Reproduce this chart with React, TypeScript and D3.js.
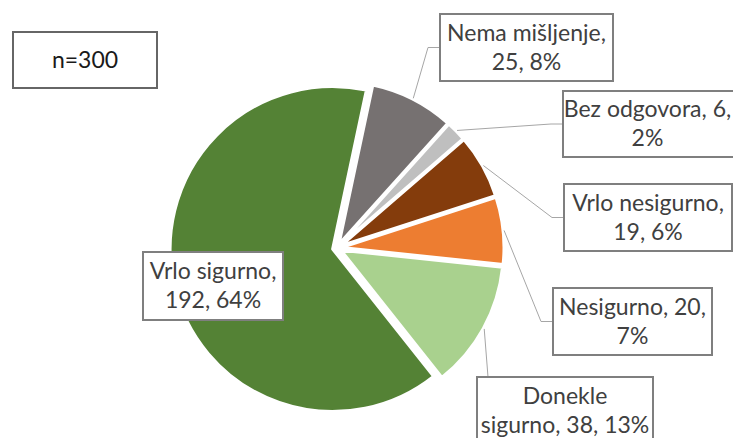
import React from "react";
import * as d3 from "d3";

const categories = ["Nema mišljenje", "Bez odgovora", "Vrlo nesigurno", "Nesigurno", "Donekle sigurno", "Vrlo sigurno"];
const values = [25, 6, 19, 20, 38, 192];
const colors = ["#767171", "#bfbfbf", "#843c0c", "#ed7d31", "#a9d18e", "#548235"];
const labelLines = [
  ["Nema mišljenje,", "25, 8%"],
  ["Bez odgovora, 6,", "2%"],
  ["Vrlo nesigurno,", "19, 6%"],
  ["Nesigurno, 20,", "7%"],
  ["Donekle", "sigurno, 38, 13%"],
  ["Vrlo sigurno,", "192, 64%"],
];
const sampleLabel = "n=300";

const W = 733;
const H = 438;
const CX = 337;
const CY = 248;
const R = 162.5;
const EXPLODE = 4.5;
const START = (12 * Math.PI) / 180;
const FONT = "Lato, 'Open Sans', sans-serif";
const FS = 23;
const LH = 29;

// label box layout: x, y, w, h, leader type, text shift
const boxes = [
  { x: 440, y: 14, w: 173, h: 67, leader: "side", tx: 0 },
  { x: 563, y: 91, w: 177, h: 66, leader: "side", tx: -4 },
  { x: 564, y: 184, w: 168, h: 67, leader: "side", tx: 0 },
  { x: 553, y: 288, w: 159, h: 67, leader: "side", tx: 0 },
  { x: 477, y: 377, w: 176, h: 67, leader: "top", tx: 0 },
  { x: 143, y: 252, w: 140, h: 68, leader: "none", tx: 0 },
];

export default function App() {
  const pie = d3
    .pie<number>()
    .sort(null)
    .startAngle(START)
    .endAngle(START + 2 * Math.PI)(values);
  const arc = d3.arc<d3.PieArcDatum<number>>().innerRadius(0).outerRadius(R);

  return (
    <svg width={W} height={H} style={{ position: "absolute", left: 0, top: 0, background: "#fff" }}>
      <rect x={0} y={0} width={W} height={H} fill="#fff" />
      {pie.map((p, i) => {
        const mid = (p.startAngle + p.endAngle) / 2;
        const dx = EXPLODE * Math.sin(mid);
        const dy = -EXPLODE * Math.cos(mid);
        return (
          <path
            key={categories[i]}
            d={arc(p) || ""}
            transform={`translate(${CX + dx},${CY + dy})`}
            fill={colors[i]}
            stroke="#fff"
            strokeWidth={3}
            strokeLinejoin="round"
          />
        );
      })}
      {pie.map((p, i) => {
        const b = boxes[i];
        if (b.leader === "none") return null;
        const mid = (p.startAngle + p.endAngle) / 2;
        const ax = CX + (EXPLODE + R + 1) * Math.sin(mid);
        const ay = CY - (EXPLODE + R + 1) * Math.cos(mid);
        let pts: [number, number][];
        if (b.leader === "side") {
          const cy = b.y + b.h / 2;
          pts = [[ax, ay], [b.x - 12, cy], [b.x, cy]];
        } else {
          pts = [[ax, ay], [b.x + 11, b.y]];
        }
        return (
          <polyline
            key={"l" + i}
            points={pts.map((q) => q.join(",")).join(" ")}
            fill="none"
            stroke="#a6a6a6"
            strokeWidth={1}
          />
        );
      })}
      {boxes.map((b, i) => {
        const cx = b.x + b.w / 2 + b.tx;
        const cy = b.y + b.h / 2;
        const lines = labelLines[i];
        const first = cy - ((lines.length - 1) * LH) / 2 + FS * 0.34;
        return (
          <g key={"b" + i}>
            <rect x={b.x} y={b.y} width={b.w} height={b.h} fill="#fff" stroke="#7f7f7f" strokeWidth={2} />
            {lines.map((t, j) => (
              <text
                key={j}
                x={cx}
                y={first + j * LH}
                textAnchor="middle"
                fontFamily={FONT}
                fontSize={FS}
                fill="#404040"
              >
                {t}
              </text>
            ))}
          </g>
        );
      })}
      <rect x={13} y={32} width={144} height={56} fill="#fff" stroke="#666" strokeWidth={2} />
      <text x={85} y={68} textAnchor="middle" fontFamily={FONT} fontSize={FS} fill="#1a1a1a">
        {sampleLabel}
      </text>
    </svg>
  );
}
